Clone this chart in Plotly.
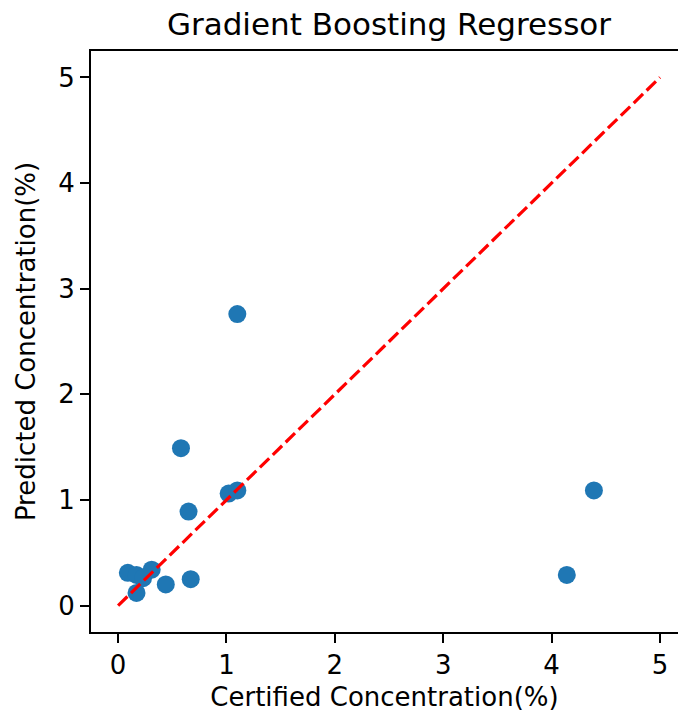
import plotly.graph_objects as go

certified = [1.10, 0.58, 0.65, 1.02, 1.10, 4.39, 4.14, 0.67, 0.09, 0.17, 0.23, 0.31, 0.17, 0.44]
predicted = [2.76, 1.49, 0.89, 1.06, 1.09, 1.09, 0.29, 0.25, 0.31, 0.29, 0.26, 0.34, 0.12, 0.20]
ideal_x = [0, 5]
ideal_y = [0, 5]
tick_vals = [0, 1, 2, 3, 4, 5]
tick_text = ["0", "1", "2", "3", "4", "5"]

FONT = "DejaVu Sans"

fig = go.Figure()
fig.add_trace(go.Scatter(
    x=certified, y=predicted, mode="markers",
    marker=dict(color="#1f77b4", size=18, line=dict(width=0)),
    showlegend=False,
))
fig.add_trace(go.Scatter(
    x=ideal_x, y=ideal_y, mode="lines",
    line=dict(color="#ff0000", width=3.2, dash="13px,5px"),
    showlegend=False,
))

fig.update_layout(
    width=678, height=721,
    margin=dict(l=91, r=0, t=51, b=89),
    plot_bgcolor="white", paper_bgcolor="white",
    font=dict(family=FONT, size=26, color="black"),
    title=dict(text="Gradient Boosting Regressor", x=389/678, xanchor="center",
               xref="container",
               y=1 - 24/721, yanchor="middle", yref="container",
               font=dict(family=FONT, size=31, color="black")),
    xaxis=dict(
        range=[-0.25, 5.166], tickvals=tick_vals, ticktext=tick_text,
        showgrid=False, zeroline=False, showline=True, linecolor="black", linewidth=1.8,
        mirror=True, ticks="outside", ticklen=9, tickwidth=1.8, tickcolor="black",
        tickfont=dict(size=26),
        title=dict(text="Certified Concentration(%)", standoff=9, font=dict(size=26)),
    ),
    yaxis=dict(
        range=[-0.25, 5.25], tickvals=tick_vals, ticktext=tick_text,
        showgrid=False, zeroline=False, showline=True, linecolor="black", linewidth=1.8,
        mirror=False, ticks="outside", ticklen=9, tickwidth=1.8, tickcolor="black",
        tickfont=dict(size=26),
        title=dict(text="Predicted Concentration(%)", standoff=15, font=dict(size=26)),
    ),
)

fig.write_html("out.html")
